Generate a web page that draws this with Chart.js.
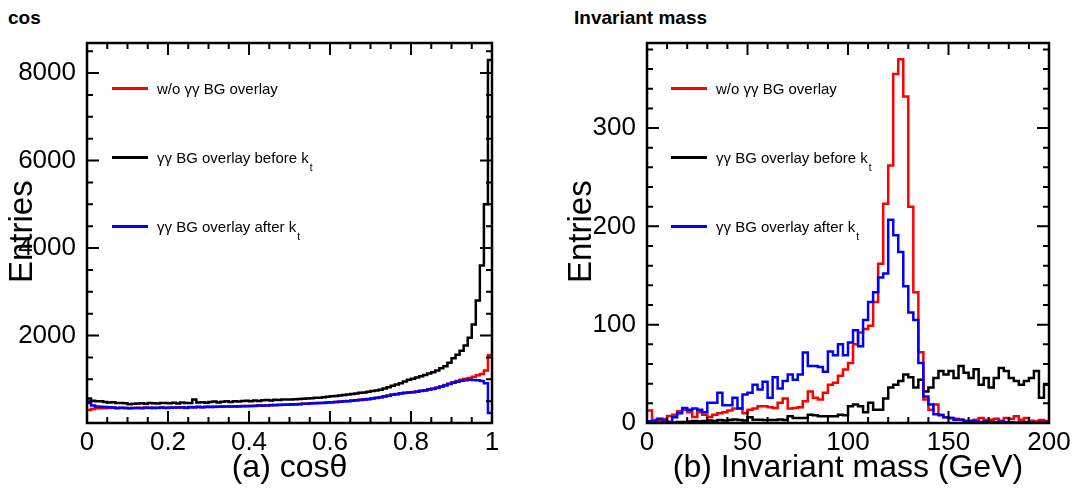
<!DOCTYPE html>
<html>
<head>
<meta charset="utf-8">
<script src="https://cdn.jsdelivr.net/npm/chart.js@4.4.1/dist/chart.umd.min.js"></script>
<style>
  body { margin: 0; background: #fff; width: 1075px; height: 495px; overflow: hidden; position: relative;
         font-family: "Liberation Sans", Arial, sans-serif; color: #000; }
  canvas { position: absolute; top: 0; }
  .ptitle { position: absolute; top: 8px; font-weight: bold; font-size: 19px; line-height: 1; }
  .ytitle { position: absolute; top: 283px; font-size: 33px; line-height: 1; white-space: nowrap;
            transform: rotate(-90deg); transform-origin: left top; }
  .leg { position: absolute; font-size: 15px; line-height: 1; white-space: nowrap; }
  .leg i { display: inline-block; width: 36px; height: 3px; vertical-align: middle; margin-right: 9px; }
  .leg span { vertical-align: middle; }
  .leg sub { font-size: 10px; vertical-align: baseline; position: relative; top: 8px; margin-left: 1px; }
</style>
</head>
<body>
<div class="ptitle" style="left:8px">cos</div>
<div class="ptitle" style="left:574px">Invariant mass</div>
<canvas id="cosChart" width="537" height="495" style="left:0"></canvas>
<canvas id="massChart" width="538" height="495" style="left:537px"></canvas>
<div class="ytitle" style="left:4px">Entries</div>
<div class="ytitle" style="left:563px">Entries</div>
<div id="legends"></div>
<script>
// legend entries (same for both panels)
const seriesNames = ['w/o γγ BG overlay', 'γγ BG overlay before k', 'γγ BG overlay after k'];
const seriesSubs = ['', 't', 't'];
const seriesColors = ['#ff0000', '#000000', '#0000ff'];

// (a) cos theta, 100 bins from 0 to 1
const cosEdges = Array.from({length: 101}, (_, i) => i / 100);
const cosTicks = [0, 0.2, 0.4, 0.6, 0.8, 1];
const cosYTicks = [0, 2000, 4000, 6000, 8000];
const cosWoOverlay = [
  300, 320, 335, 340, 335, 345, 350, 340, 350, 345,
  335, 345, 350, 340, 355, 345, 350, 345, 355, 350,
  355, 350, 360, 355, 345, 365, 355, 370, 360, 365,
  370, 365, 375, 370, 380, 375, 385, 380, 390, 385,
  390, 395, 400, 395, 405, 410, 405, 415, 420, 425,
  430, 425, 435, 440, 445, 450, 455, 460, 465, 470,
  475, 480, 490, 495, 505, 515, 520, 530, 540, 550,
  560, 575, 590, 610, 630, 650, 665, 680, 690, 700,
  710, 720, 735, 750, 770, 790, 810, 840, 870, 900,
  930, 960, 990, 1010, 1030, 1060, 1090, 1120, 1200, 1550
];
const cosBeforeKt = [
  560, 510, 500, 495, 480, 470, 475, 460, 455, 450,
  430, 440, 445, 450, 440, 455, 450, 445, 460, 455,
  450, 465, 445, 470, 455, 460, 540, 470, 475, 465,
  480, 490, 470, 485, 495, 480, 500, 490, 505, 510,
  500, 515, 505, 520, 525, 515, 530, 525, 535, 540,
  540, 545, 550, 555, 560, 565, 575, 580, 590, 600,
  610, 620, 630, 640, 650, 665, 675, 690, 700, 715,
  730, 745, 760, 790, 820, 850, 880, 910, 950, 990,
  1010, 1040, 1070, 1100, 1130, 1160, 1200, 1250, 1300, 1380,
  1480, 1560, 1650, 1770, 1950, 2250, 2800, 3600, 5000, 8300
];
const cosAfterKt = [
  460, 400, 380, 370, 365, 360, 355, 345, 350, 345,
  340, 345, 345, 345, 350, 350, 345, 350, 355, 345,
  350, 355, 355, 360, 350, 360, 360, 365, 360, 370,
  365, 370, 370, 375, 375, 380, 380, 385, 385, 390,
  390, 390, 400, 400, 400, 405, 410, 410, 420, 420,
  425, 430, 430, 440, 440, 450, 450, 460, 460, 470,
  475, 480, 485, 495, 500, 510, 520, 525, 540, 545,
  560, 570, 590, 605, 625, 645, 660, 675, 685, 695,
  705, 715, 730, 745, 765, 780, 800, 830, 860, 890,
  920, 945, 965, 980, 990, 985, 980, 960, 910, 230
];

// (b) invariant mass, 80 bins of 2.5 GeV from 0 to 200
const massEdges = Array.from({length: 81}, (_, i) => i * 2.5);
const massTicks = [0, 50, 100, 150, 200];
const massYTicks = [0, 100, 200, 300];
const massWoOverlay = [
  12.6, 3, 3, 4, 7, 8.5, 12, 13.6, 11, 6,
  11, 8.5, 6, 8.5, 10, 11, 12.6, 14.7, 14.7, 10,
  13.6, 14.7, 17, 17, 16, 15.3, 20.5, 25, 14.7, 15.3,
  16, 22, 32, 25.6, 24, 30.7, 39, 41, 48, 54.5,
  61, 80, 92, 95.5, 99, 123, 162, 223, 262, 355,
  370, 332, 220, 133, 72, 24, 13.6, 18.7, 8.5, 5.8,
  5, 4.4, 3.4, 2.4, 2.4, 3.4, 5, 3.4, 3.4, 4.4,
  2.4, 5, 4.4, 6.8, 3.4, 5, 2.4, 1.7, 3, 2
];
const massBeforeKt = [
  0, 0, 0.5, 0, 1, 0.5, 1, 1, 1.5, 2,
  1.5, 2, 2.5, 2, 3, 2.5, 3, 3.5, 3, 2.5,
  5.8, 3.4, 3.4, 3, 3, 3, 3.5, 3, 6.8, 5,
  5, 5, 8.5, 7.8, 6.8, 6.8, 6.8, 6.8, 8.5, 7.8,
  17, 18.7, 17, 11, 20.5, 13.6, 13.6, 25, 36, 39,
  42.6, 49.4, 46.5, 36, 44, 32, 36, 45.7, 52.8, 49.4,
  52.8, 45.7, 58, 51, 45.7, 54.6, 39, 45.7, 36, 45.7,
  56, 52.8, 45.7, 42.6, 39, 42.6, 45.7, 52.8, 25.6, 39
];
const massAfterKt = [
  1.7, 2.4, 4.4, 2.4, 1, 5.8, 10, 15.3, 13.6, 14.7,
  13.6, 11, 20.5, 20.5, 30.7, 18, 18, 25.6, 14.7, 29,
  30.7, 39, 34, 42, 25.6, 46.5, 35, 42.6, 49.4, 44,
  49.4, 71.6, 58, 58, 57, 52, 72.6, 69, 80, 69,
  82, 94.4, 78, 104.7, 123, 133, 148, 152, 206.6, 191,
  174, 139, 112.5, 104.7, 61, 27, 18.7, 9, 7.8, 5.8,
  5, 3.4, 3.4, 1.7, 2, 1.5, 1, 1.5, 1, 1,
  1.5, 1, 1, 0.5, 1, 1, 1, 0.5, 1, 1
];

const FONT = '"Liberation Sans", Arial, sans-serif';

// step outline: one point per bin low edge plus the last high edge
function histPoints(edges, vals) {
  const pts = vals.map((v, i) => ({x: edges[i], y: v}));
  pts.push({x: edges[vals.length], y: vals[vals.length - 1]});
  return pts;
}

// ROOT-like frame with inward major/minor ticks on all four sides
const rootFrame = {
  id: 'rootFrame',
  afterDatasetsDraw(chart, args, o) {
    const {ctx, chartArea: a, scales: {x, y}} = chart;
    ctx.save();
    ctx.strokeStyle = '#000';
    ctx.lineWidth = 2;
    ctx.beginPath();
    const nx = Math.round((x.max - x.min) / o.xMinor);
    for (let i = 0; i <= nx; i++) {
      const px = x.getPixelForValue(x.min + i * o.xMinor);
      const len = i % o.xSub === 0 ? 12 : 6;
      ctx.moveTo(px, a.bottom); ctx.lineTo(px, a.bottom - len);
      ctx.moveTo(px, a.top); ctx.lineTo(px, a.top + len);
    }
    const ny = Math.floor((y.max - y.min) / o.yMinor + 1e-9);
    for (let i = 0; i <= ny; i++) {
      const py = y.getPixelForValue(y.min + i * o.yMinor);
      const len = i % o.ySub === 0 ? 12 : 6;
      ctx.moveTo(a.left, py); ctx.lineTo(a.left + len, py);
      ctx.moveTo(a.right, py); ctx.lineTo(a.right - len, py);
    }
    ctx.stroke();
    ctx.lineWidth = 2.5;
    ctx.strokeRect(a.left, a.top, a.right - a.left, a.bottom - a.top);
    ctx.restore();
  }
};

function makeChart(id, cfg) {
  const order = [2, 3, 1];
  const datasets = cfg.series.map((vals, k) => ({
    label: seriesNames[k],
    data: histPoints(cfg.edges, vals),
    borderColor: seriesColors[k],
    borderWidth: 2.5,
    stepped: true,
    pointRadius: 0,
    fill: false,
    order: order[k]
  }));
  return new Chart(document.getElementById(id), {
    type: 'line',
    data: {datasets},
    plugins: [rootFrame],
    options: {
      responsive: false,
      animation: false,
      layout: {padding: {left: 0, top: 43, right: cfg.padRight, bottom: 0}},
      plugins: {
        legend: {display: false},
        tooltip: {enabled: false},
        rootFrame: cfg.frame
      },
      scales: {
        x: {
          type: 'linear', min: cfg.edges[0], max: cfg.edges[cfg.edges.length - 1],
          afterFit: s => { s.height = 72; },
          afterBuildTicks: s => { s.ticks = cfg.xTicks.map(v => ({value: v})); },
          grid: {display: false, drawTicks: false},
          border: {display: false},
          ticks: {color: '#000', font: {size: 26, family: FONT}, padding: 4, maxRotation: 0,
                  callback: v => String(v)},
          title: {display: true, text: cfg.xTitle, color: '#000',
                  font: {size: 32, family: FONT, lineHeight: 1}, padding: {top: 0, bottom: 11}}
        },
        y: {
          type: 'linear', min: 0, max: cfg.yMax,
          afterFit: s => { s.width = cfg.yWidth; },
          afterBuildTicks: s => { s.ticks = cfg.yTicks.map(v => ({value: v})); },
          grid: {display: false, drawTicks: false},
          border: {display: false},
          ticks: {color: '#000', font: {size: 26, family: FONT}, padding: 11,
                  callback: v => (v === 0 && !cfg.showZero) ? '' : String(v)}
        }
      }
    }
  });
}

makeChart('cosChart', {
  edges: cosEdges, xTicks: cosTicks, yTicks: cosYTicks,
  series: [cosWoOverlay, cosBeforeKt, cosAfterKt],
  xTitle: '(a) cosθ', yMax: 8686, yWidth: 87, padRight: 45, showZero: false,
  frame: {xMinor: 0.05, xSub: 4, yMinor: 500, ySub: 4}
});

makeChart('massChart', {
  edges: massEdges, xTicks: massTicks, yTicks: massYTicks,
  series: [massWoOverlay, massBeforeKt, massAfterKt],
  xTitle: '(b) Invariant mass (GeV)', yMax: 386.5, yWidth: 110, padRight: 26, showZero: true,
  frame: {xMinor: 10, xSub: 5, yMinor: 20, ySub: 5}
});

// legends, placed like the ROOT TLegend in each pad
const legendRows = [87, 156, 225];
const legendLefts = [112, 671];
const holder = document.getElementById('legends');
legendLefts.forEach(left => {
  seriesNames.forEach((name, k) => {
    const d = document.createElement('div');
    d.className = 'leg';
    d.style.left = left + 'px';
    d.style.top = (legendRows[k] - 8) + 'px';
    d.innerHTML = '<i style="background:' + seriesColors[k] + '"></i><span>' + name +
      (seriesSubs[k] ? '<sub>' + seriesSubs[k] + '</sub>' : '') + '</span>';
    holder.appendChild(d);
  });
});
</script>
</body>
</html>
